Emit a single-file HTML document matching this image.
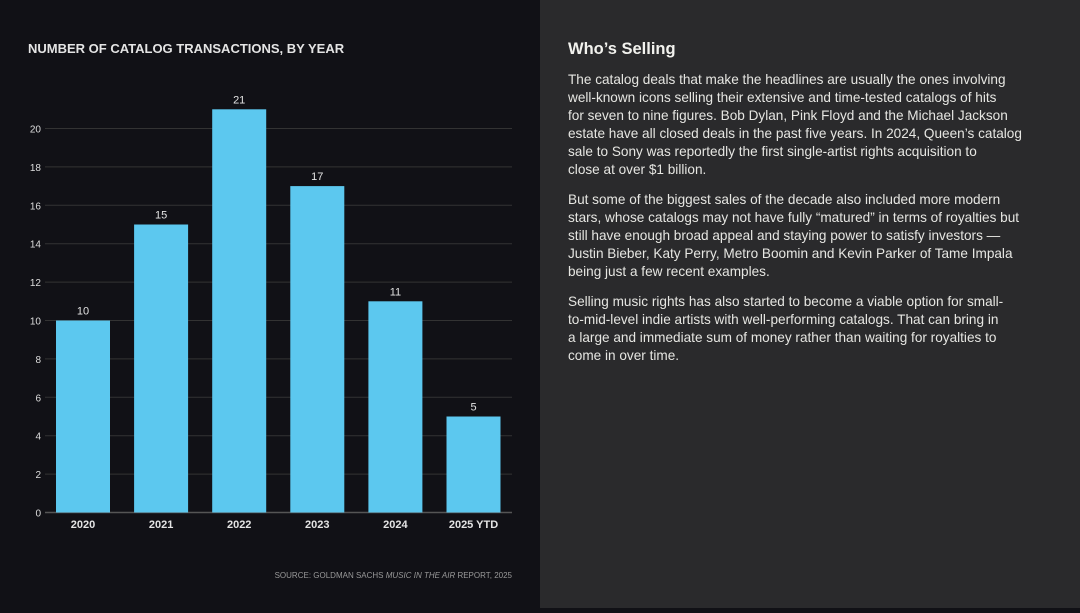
<!DOCTYPE html>
<html><head><meta charset="utf-8">
<style>
body{margin:0;width:1080px;height:608px;overflow:hidden;background:#111116;font-family:"Liberation Sans",sans-serif;}
#left{position:absolute;left:0;top:0;width:540px;height:608px;background:#111116;}
#right{position:absolute;left:540px;top:0;width:540px;height:608px;background:#2a2a2c;}
#right h2{position:absolute;left:28px;top:40px;margin:0;font-size:16.5px;font-weight:bold;color:#f2f2ee;}
#right .p{position:absolute;left:28px;font-size:13.6px;line-height:18px;color:#e6e6e2;white-space:nowrap;}
</style></head><body>
<div id="left">
<svg id="chart" width="540" height="608"></svg>
</div>
<div id="right">
<h2>Who’s Selling</h2>
<div class="p" style="top:71px">The catalog deals that make the headlines are usually the ones involving<br>well-known icons selling their extensive and time-tested catalogs of hits<br>for seven to nine figures. Bob Dylan, Pink Floyd and the Michael Jackson<br>estate have all closed deals in the past five years. In 2024, Queen’s catalog<br>sale to Sony was reportedly the first single-artist rights acquisition to<br>close at over $1 billion.</div>
<div class="p" style="top:191px">But some of the biggest sales of the decade also included more modern<br>stars, whose catalogs may not have fully “matured” in terms of royalties but<br>still have enough broad appeal and staying power to satisfy investors —<br>Justin Bieber, Katy Perry, Metro Boomin and Kevin Parker of Tame Impala<br>being just a few recent examples.</div>
<div class="p" style="top:293px">Selling music rights has also started to become a viable option for small-<br>to-mid-level indie artists with well-performing catalogs. That can bring in<br>a large and immediate sum of money rather than waiting for royalties to<br>come in over time.</div>
</div>
<script>
const categories=["2020","2021","2022","2023","2024","2025 YTD"];
const values=[10,15,21,17,11,5];
const yTicks=[0,2,4,6,8,10,12,14,16,18,20];
const NS="http://www.w3.org/2000/svg";
const svg=document.getElementById('chart');
const y0=512.5,yPer=19.2,x0=56,step=78.1,bw=54;
const y=v=>y0-v*yPer;
const x=i=>x0+i*step;
function mk(t,a,txt){const e=document.createElementNS(NS,t);for(const k in a)e.setAttribute(k,a[k]);if(txt!==undefined)e.textContent=txt;svg.appendChild(e);return e;}
const title=mk('text',{x:28,y:53,fill:'#e4e4e4','font-size':'13px','font-weight':'bold'},'NUMBER OF CATALOG TRANSACTIONS, BY YEAR');


yTicks.forEach(t=>{
  const g=mk('line',{x1:45,x2:512,y1:y(t),y2:y(t),stroke:t===0?'#555':'#333','stroke-width':t===0?1.5:1});
  
  
  const l=mk('text',{x:41,y:y(t)+4,fill:'#ddd','font-size':'10px','text-anchor':'end'},t);
  
  
});
categories.forEach((c,i)=>{
  const v=values[i];
  const b=mk('rect',{x:x(i),y:y(v),width:bw,height:y0-y(v),fill:'#5cc8ef'});
  
  
  const vl=mk('text',{x:x(i)+bw/2,y:y(v)-6,fill:'#e4e4e4','font-size':'11px','text-anchor':'middle'},v);
  
  
  const xl=mk('text',{x:x(i)+bw/2,y:528,fill:'#e4e4e4','font-size':'11px','font-weight':'bold','text-anchor':'middle'},c);
  
  
});
const src=mk('text',{x:512,y:578,fill:'#999','font-size':'8px','text-anchor':'end'});
src.innerHTML='SOURCE: GOLDMAN SACHS <tspan font-style="italic">MUSIC IN THE AIR</tspan> REPORT, 2025';


</script>
</body></html>
